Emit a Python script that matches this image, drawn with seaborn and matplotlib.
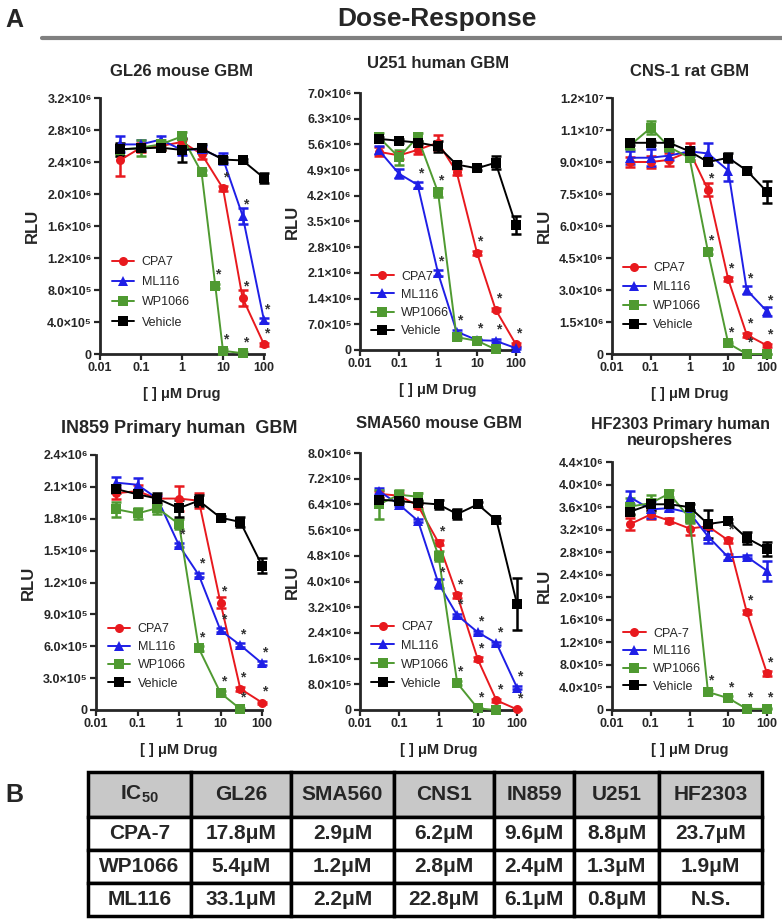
import numpy as np
import pandas as pd
import matplotlib.pyplot as plt
import seaborn as sns

# doses (uM) and RLU readings (x 1e6)
dose = [0.03, 0.1, 0.3, 1, 3, 10, 30, 100]
dose7 = [0.03, 0.1, 0.3, 1, 3, 10, 30]
gl26_wp_dose = [0.03, 0.1, 0.3, 1, 3, 6.5, 10, 30]

# GL26 mouse GBM
gl26_cpa7 = [2.42, 2.58, 2.60, 2.65, 2.50, 2.07, 0.70, 0.12]
gl26_cpa7_err = [0.20, 0.06, 0.05, 0.04, 0.06, 0.03, 0.10, 0.02]
gl26_ml116 = [2.62, 2.62, 2.68, 2.55, 2.56, 2.44, 1.73, 0.42]
gl26_ml116_err = [0.10, 0.06, 0.04, 0.06, 0.04, 0.07, 0.10, 0.03]
gl26_wp = [2.55, 2.58, 2.62, 2.72, 2.27, 0.85, 0.04, 0.01]
gl26_wp_err = [0.08, 0.10, 0.06, 0.05, 0.03, 0.03, 0.02, 0.01]
gl26_veh = [2.56, 2.57, 2.58, 2.55, 2.57, 2.43, 2.42, 2.20]
gl26_veh_err = [0.08, 0.03, 0.03, 0.15, 0.06, 0.03, 0.02, 0.06]

# U251 human GBM
u251_cpa7 = [5.40, 5.30, 5.45, 5.65, 4.85, 2.65, 1.10, 0.15]
u251_cpa7_err = [0.12, 0.10, 0.12, 0.20, 0.08, 0.05, 0.05, 0.03]
u251_ml116 = [5.45, 4.80, 4.50, 2.10, 0.50, 0.27, 0.25, 0.05]
u251_ml116_err = [0.10, 0.12, 0.08, 0.08, 0.05, 0.04, 0.04, 0.02]
u251_wp = [5.80, 5.25, 5.80, 4.30, 0.35, 0.25, 0.02]
u251_wp_err = [0.12, 0.20, 0.12, 0.12, 0.04, 0.03, 0.01]
u251_veh = [5.75, 5.70, 5.65, 5.55, 5.05, 4.95, 5.10, 3.40]
u251_veh_err = [0.05, 0.05, 0.05, 0.15, 0.08, 0.05, 0.18, 0.25]

# CNS-1 rat GBM
cns1_cpa7 = [9.0, 9.0, 9.1, 9.5, 7.7, 3.5, 0.9, 0.4]
cns1_cpa7_err = [0.25, 0.30, 0.30, 0.40, 0.30, 0.10, 0.10, 0.05]
cns1_ml116 = [9.2, 9.2, 9.3, 9.5, 9.4, 8.6, 3.0, 2.0]
cns1_ml116_err = [0.30, 0.40, 0.20, 0.20, 0.50, 0.50, 0.20, 0.20]
cns1_wp = [9.8, 10.6, 9.7, 9.2, 4.8, 0.5, 0.0, 0.0]
cns1_wp_err = [0.20, 0.30, 0.20, 0.10, 0.10, 0.05, 0.02, 0.02]
cns1_veh = [9.9, 9.9, 9.9, 9.5, 9.0, 9.2, 8.6, 7.6]
cns1_veh_err = [0.10, 0.10, 0.10, 0.10, 0.15, 0.20, 0.15, 0.50]

# IN859 primary human GBM
in859_cpa7 = [2.04, 2.06, 1.99, 1.99, 1.97, 1.01, 0.20, 0.07]
in859_cpa7_err = [0.05, 0.06, 0.03, 0.12, 0.07, 0.05, 0.02, 0.01]
in859_ml116 = [2.14, 2.12, 1.99, 1.55, 1.27, 0.75, 0.61, 0.44]
in859_ml116_err = [0.05, 0.06, 0.02, 0.02, 0.02, 0.02, 0.02, 0.02]
in859_wp = [1.89, 1.85, 1.90, 1.75, 0.58, 0.16, 0.01]
in859_wp_err = [0.07, 0.05, 0.06, 0.05, 0.02, 0.02, 0.01]
in859_veh = [2.08, 2.03, 1.99, 1.90, 1.97, 1.81, 1.77, 1.36]
in859_veh_err = [0.04, 0.03, 0.05, 0.08, 0.05, 0.02, 0.05, 0.07]

# SMA560 mouse GBM
sma_cpa7 = [6.73, 6.67, 6.36, 5.21, 3.57, 1.58, 0.30, 0.02]
sma_cpa7_err = [0.10, 0.10, 0.08, 0.08, 0.08, 0.06, 0.04, 0.02]
sma_ml116 = [6.82, 6.39, 5.89, 3.94, 2.95, 2.42, 2.08, 0.70]
sma_ml116_err = [0.10, 0.05, 0.05, 0.15, 0.05, 0.05, 0.05, 0.05]
sma_wp = [6.40, 6.70, 6.64, 4.80, 0.84, 0.05, 0.0]
sma_wp_err = [0.45, 0.15, 0.10, 0.15, 0.05, 0.02, 0.01]
sma_veh = [6.55, 6.50, 6.45, 6.40, 6.10, 6.40, 5.90, 3.30]
sma_veh_err = [0.05, 0.05, 0.05, 0.15, 0.15, 0.08, 0.08, 0.80]

# HF2303 primary human neurospheres
hf_cpa7 = [3.30, 3.47, 3.36, 3.22, 3.26, 3.01, 1.74, 0.65]
hf_cpa7_err = [0.10, 0.08, 0.04, 0.12, 0.05, 0.04, 0.04, 0.04]
hf_ml116 = [3.77, 3.56, 3.58, 3.50, 3.08, 2.71, 2.72, 2.47]
hf_ml116_err = [0.12, 0.15, 0.05, 0.05, 0.12, 0.05, 0.03, 0.18]
hf_wp = [3.61, 3.67, 3.84, 3.41, 0.32, 0.21, 0.02, 0.02]
hf_wp_err = [0.15, 0.15, 0.06, 0.10, 0.03, 0.03, 0.01, 0.01]
hf_veh = [3.52, 3.65, 3.65, 3.60, 3.30, 3.35, 3.05, 2.86]
hf_veh_err = [0.05, 0.10, 0.05, 0.05, 0.25, 0.04, 0.10, 0.12]

# IC50 table
ic50_cols = ['GL26', 'SMA560', 'CNS1', 'IN859', 'U251', 'HF2303']
ic50_rows = ['CPA-7', 'WP1066', 'ML116']
ic50_cpa7 = ['17.8μM', '2.9μM', '6.2μM', '9.6μM', '8.8μM', '23.7μM']
ic50_wp = ['5.4μM', '1.2μM', '2.8μM', '2.4μM', '1.3μM', '1.9μM']
ic50_ml116 = ['33.1μM', '2.2μM', '22.8μM', '6.1μM', '0.8μM', 'N.S.']

drugs = ['CPA7', 'ML116', 'WP1066', 'Vehicle']
colors = {'CPA7': '#e8191e', 'ML116': '#1f1fe6', 'WP1066': '#4f9a31', 'Vehicle': '#000000'}
marks = {'CPA7': 'o', 'ML116': '^', 'WP1066': 's', 'Vehicle': 's'}

sns.set_style('ticks')
plt.rcParams['font.family'] = ['Liberation Sans', 'DejaVu Sans']
plt.rcParams['font.weight'] = 'bold'
plt.rcParams['mathtext.fontset'] = 'custom'
plt.rcParams['mathtext.rm'] = 'Liberation Sans:bold'
plt.rcParams['mathtext.it'] = 'Liberation Sans:bold'
plt.rcParams['mathtext.bf'] = 'Liberation Sans:bold'

W, H = 782, 922
fig = plt.figure(figsize=(W / 100, H / 100), dpi=100)


def px_axes(left, right, top, bottom):
    return fig.add_axes([left / W, 1 - bottom / H, (right - left) / W, (bottom - top) / H])


def draw_panel(ax, title, series, stars, yticks, yticklabels, cpa_label='CPA7',
               title_pad=16, title_size=12, title_x=0.5, leg_y=0.05, leg_space=0.5):
    rows = []
    for name in drugs:
        xs, ys, es = series[name]
        for xv, yv, ev in zip(xs, ys, es):
            rows.append({'dose': xv, 'rlu': yv * 1e6, 'err': ev * 1e6, 'drug': name})
    df = pd.DataFrame(rows)

    for name in drugs:
        d = df[df.drug == name]
        ax.errorbar(d.dose, d.rlu, yerr=d.err, fmt='none', ecolor=colors[name],
                    elinewidth=1.8, capsize=3.5, capthick=1.8, clip_on=False, zorder=2)

    sns.lineplot(data=df, x='dose', y='rlu', hue='drug', style='drug',
                 hue_order=drugs, style_order=drugs, palette=colors, markers=marks,
                 dashes=False, markersize=6.5, markeredgewidth=0, linewidth=1.4,
                 estimator=None, ax=ax, clip_on=False, zorder=3)

    for name, xs in stars.items():
        sx, sy, _ = series[name]
        for xv in xs:
            yv = sy[sx.index(xv)]
            ax.annotate('*', (xv, yv * 1e6), xytext=(2, 3), textcoords='offset points',
                        ha='center', va='bottom', fontsize=10, color='#333333')

    ax.set_xscale('log')
    ax.set_xlim(0.01, 100)
    ax.set_xticks([0.01, 0.1, 1, 10, 100])
    ax.set_xticklabels(['0.01', '0.1', '1', '10', '100'])
    ax.minorticks_off()
    ax.set_ylim(0, yticks[-1] * 1e6)
    ax.set_yticks([t * 1e6 for t in yticks])
    ax.set_yticklabels(yticklabels)
    ax.tick_params(labelsize=9, width=1.6, length=4, direction='out', pad=2)
    for s in ['left', 'bottom']:
        ax.spines[s].set_linewidth(2)
    sns.despine(ax=ax)
    ax.set_xlabel('[ ] μM Drug', fontsize=10.5, fontweight='bold', labelpad=9)
    ax.set_ylabel('RLU', fontsize=12, fontweight='bold', labelpad=5)
    ax.set_title(title, fontsize=title_size, fontweight='bold', pad=title_pad,
                 linespacing=1.1, x=title_x)

    handles, labels = ax.get_legend_handles_labels()
    labels = [cpa_label if l == 'CPA7' else l for l in labels]
    ax.legend(handles, labels, loc='lower left', bbox_to_anchor=(0.04, leg_y),
              frameon=False, prop={'size': 9, 'weight': 'normal'}, handlelength=1.8,
              labelspacing=leg_space, borderaxespad=0, handletextpad=0.6)


sup5, sup6, sup7 = '×10⁵', '×10⁶', '×10⁷'

ax1 = px_axes(100, 264, 98, 354)
draw_panel(ax1, 'GL26 mouse GBM',
           {'CPA7': (dose, gl26_cpa7, gl26_cpa7_err), 'ML116': (dose, gl26_ml116, gl26_ml116_err),
            'WP1066': (gl26_wp_dose, gl26_wp, gl26_wp_err), 'Vehicle': (dose, gl26_veh, gl26_veh_err)},
           {'CPA7': [10, 30, 100], 'ML116': [30, 100], 'WP1066': [6.5, 10, 30]},
           [0, 0.4, 0.8, 1.2, 1.6, 2.0, 2.4, 2.8, 3.2],
           ['0', '4.0' + sup5, '8.0' + sup5, '1.2' + sup6, '1.6' + sup6, '2.0' + sup6,
            '2.4' + sup6, '2.8' + sup6, '3.2' + sup6],
           leg_y=0.08, leg_space=0.65)

ax2 = px_axes(360, 516, 93, 350)
draw_panel(ax2, 'U251 human GBM',
           {'CPA7': (dose, u251_cpa7, u251_cpa7_err), 'ML116': (dose, u251_ml116, u251_ml116_err),
            'WP1066': (dose7, u251_wp, u251_wp_err), 'Vehicle': (dose, u251_veh, u251_veh_err)},
           {'CPA7': [10, 30, 100], 'ML116': [0.3, 1, 3, 10, 30], 'WP1066': [1]},
           [0, 0.7, 1.4, 2.1, 2.8, 3.5, 4.2, 4.9, 5.6, 6.3, 7.0],
           ['0', '7.0' + sup5, '1.4' + sup6, '2.1' + sup6, '2.8' + sup6, '3.5' + sup6,
            '4.2' + sup6, '4.9' + sup6, '5.6' + sup6, '6.3' + sup6, '7.0' + sup6],
           title_pad=18, leg_y=0.03, leg_space=0.5)

ax3 = px_axes(612, 767, 98, 354)
draw_panel(ax3, 'CNS-1 rat GBM',
           {'CPA7': (dose, cns1_cpa7, cns1_cpa7_err), 'ML116': (dose, cns1_ml116, cns1_ml116_err),
            'WP1066': (dose, cns1_wp, cns1_wp_err), 'Vehicle': (dose, cns1_veh, cns1_veh_err)},
           {'CPA7': [3, 10, 30, 100], 'ML116': [30, 100], 'WP1066': [3, 10, 30]},
           [0, 1.5, 3.0, 4.5, 6.0, 7.5, 9.0, 10.5, 12.0],
           ['0', '1.5' + sup6, '3.0' + sup6, '4.5' + sup6, '6.0' + sup6, '7.5' + sup6,
            '9.0' + sup6, '1.1' + sup7, '1.2' + sup7],
           leg_y=0.07, leg_space=0.55)

ax4 = px_axes(96, 262, 455, 710)
draw_panel(ax4, 'IN859 Primary human  GBM',
           {'CPA7': (dose, in859_cpa7, in859_cpa7_err), 'ML116': (dose, in859_ml116, in859_ml116_err),
            'WP1066': (dose7, in859_wp, in859_wp_err), 'Vehicle': (dose, in859_veh, in859_veh_err)},
           {'CPA7': [10, 30, 100], 'ML116': [1, 3, 10, 30, 100], 'WP1066': [3, 10, 30]},
           [0, 0.3, 0.6, 0.9, 1.2, 1.5, 1.8, 2.1, 2.4],
           ['0', '3.0' + sup5, '6.0' + sup5, '9.0' + sup5, '1.2' + sup6, '1.5' + sup6,
            '1.8' + sup6, '2.1' + sup6, '2.4' + sup6],
           title_size=13, leg_y=0.06, leg_space=0.5)

ax5 = px_axes(360, 517, 453, 710)
draw_panel(ax5, 'SMA560 mouse GBM',
           {'CPA7': (dose, sma_cpa7, sma_cpa7_err), 'ML116': (dose, sma_ml116, sma_ml116_err),
            'WP1066': (dose7, sma_wp, sma_wp_err), 'Vehicle': (dose, sma_veh, sma_veh_err)},
           {'CPA7': [1, 3, 10, 30, 100], 'ML116': [1, 3, 10, 30, 100], 'WP1066': [3, 10]},
           [0, 0.8, 1.6, 2.4, 3.2, 4.0, 4.8, 5.6, 6.4, 7.2, 8.0],
           ['0', '8.0' + sup5, '1.6' + sup6, '2.4' + sup6, '3.2' + sup6, '4.0' + sup6,
            '4.8' + sup6, '5.6' + sup6, '6.4' + sup6, '7.2' + sup6, '8.0' + sup6],
           title_pad=18, leg_y=0.06, leg_space=0.55)

ax6 = px_axes(612, 767, 462, 710)
draw_panel(ax6, 'HF2303 Primary human\nneuropsheres',
           {'CPA7': (dose, hf_cpa7, hf_cpa7_err), 'ML116': (dose, hf_ml116, hf_ml116_err),
            'WP1066': (dose, hf_wp, hf_wp_err), 'Vehicle': (dose, hf_veh, hf_veh_err)},
           {'CPA7': [10, 30, 100], 'WP1066': [3, 10, 30, 100]},
           [0, 0.4, 0.8, 1.2, 1.6, 2.0, 2.4, 2.8, 3.2, 3.6, 4.0, 4.4],
           ['0', '4.0' + sup5, '8.0' + sup5, '1.2' + sup6, '1.6' + sup6, '2.0' + sup6,
            '2.4' + sup6, '2.8' + sup6, '3.2' + sup6, '3.6' + sup6, '4.0' + sup6, '4.4' + sup6],
           cpa_label='CPA-7', title_pad=12, title_size=11.5, title_x=0.44,
           leg_y=0.05, leg_space=0.45)

# header
fig.text(437 / W, 1 - 19 / H, 'Dose-Response', ha='center', va='center',
         fontsize=19, fontweight='bold')
fig.text(14 / W, 1 - 20 / H, 'A', ha='center', va='center', fontsize=18, fontweight='bold')
fig.add_artist(plt.Line2D([42 / W, 1.0], [1 - 38 / H, 1 - 38 / H], color='#808080', lw=3))
fig.text(14 / W, 1 - 795 / H, 'B', ha='center', va='center', fontsize=18, fontweight='bold')

# IC50 table
axt = px_axes(88, 762, 772, 916)
axt.axis('off')
cell_text = [ic50_cpa7, ic50_wp, ic50_ml116]
tab = axt.table(cellText=[[r] + v for r, v in zip(ic50_rows, cell_text)],
                colLabels=['IC$_{50}$'] + ic50_cols, cellLoc='center',
                colWidths=[103, 100, 103, 100, 80, 85, 103], bbox=[0, 0, 1, 1])
tab.auto_set_font_size(False)
for (r, c), cell in tab.get_celld().items():
    cell.set_linewidth(2.5)
    cell.set_edgecolor('black')
    cell.set_height(45 if r == 0 else 33)
    cell.set_facecolor('#c8c8c8' if r == 0 else 'white')
    cell.get_text().set_fontsize(15)
    cell.get_text().set_fontweight('bold')

fig.savefig('out.png', dpi=100)
